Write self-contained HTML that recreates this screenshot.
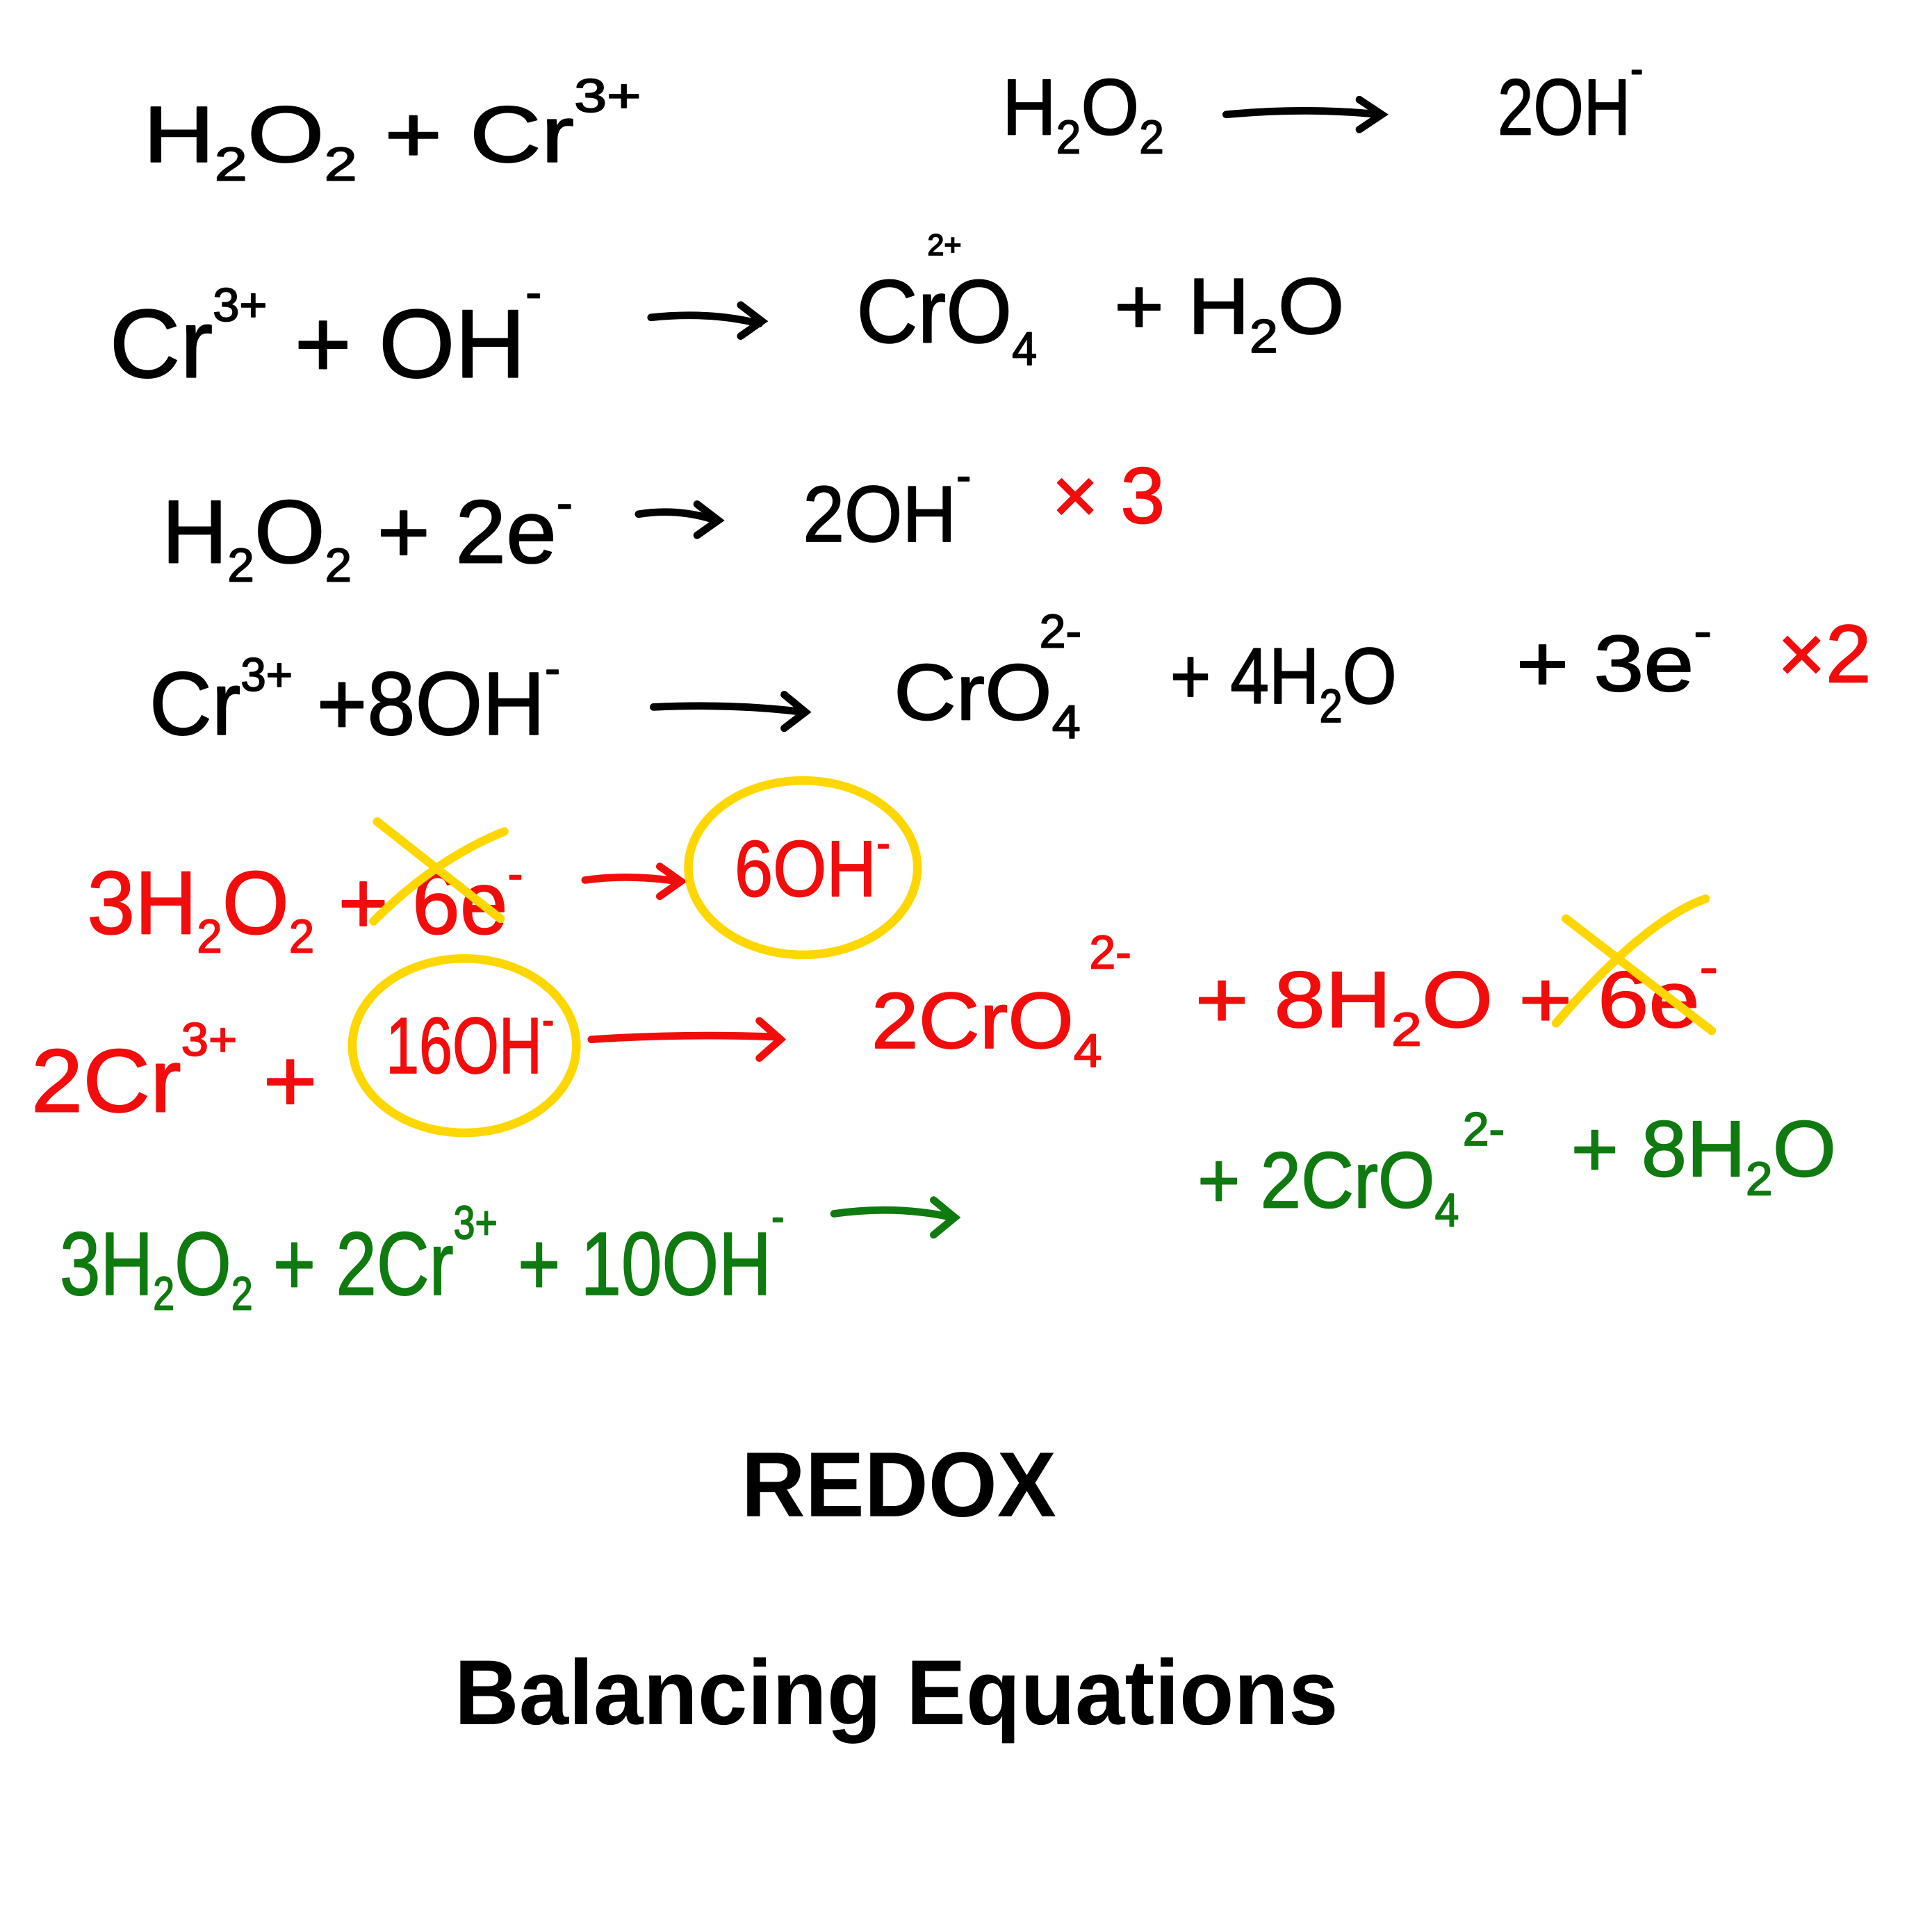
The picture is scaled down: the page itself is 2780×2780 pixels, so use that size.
<!DOCTYPE html>
<html><head><meta charset="utf-8"><style>
html,body{margin:0;padding:0;background:#fff}
svg{display:block}
text{font-family:"Liberation Sans",sans-serif}
.h{font-size:64px;stroke-width:1px;stroke-linejoin:round}
.k{fill:#000;stroke:#000}
.r{fill:#f20d0d;stroke:#f20d0d}
.g{fill:#0f7a0f;stroke:#0f7a0f}
.s{font-size:38px}
</style></head><body>
<svg width="2780" height="2780" viewBox="0 0 1552 1552" xmlns="http://www.w3.org/2000/svg">
<rect width="1552" height="1552" fill="#fff"/>
<!-- Row 1 -->
<text class="h k" x="115" y="130" textLength="400" lengthAdjust="spacingAndGlyphs">H<tspan class="s" dy="15">2</tspan><tspan dy="-15">O</tspan><tspan class="s" dy="15">2</tspan><tspan dy="-15"> + Cr</tspan><tspan class="s" dy="-40">3+</tspan></text>
<text class="h k" x="805" y="108" textLength="130" lengthAdjust="spacingAndGlyphs">H<tspan class="s" dy="15">2</tspan><tspan dy="-15">O</tspan><tspan class="s" dy="15">2</tspan></text>
<path d="M985 92 Q1050 86 1108 92 M1092 80 L1110 92 L1092 104" stroke="#000" stroke-width="6" fill="none" stroke-linecap="round"/>
<text class="h k" x="1203" y="108" textLength="117" lengthAdjust="spacingAndGlyphs">2OH<tspan class="s" dy="-40">-</tspan></text>
<!-- Row 2 -->
<text class="h k" x="88" y="303" style="font-size:78px" textLength="347" lengthAdjust="spacingAndGlyphs">Cr<tspan class="s" dy="-45">3+</tspan><tspan dy="45"> + OH</tspan><tspan class="s" dy="-55">-</tspan></text>
<path d="M523 255 Q570 250 610 260 M595 245 L612 258 L595 270" stroke="#000" stroke-width="6" fill="none" stroke-linecap="round"/>
<text class="h k" x="688" y="275" style="font-size:72px" textLength="145" lengthAdjust="spacingAndGlyphs">CrO<tspan class="s" dy="18">4</tspan></text>
<text class="s k" x="745" y="205" style="font-size:24px">2+</text>
<text class="h k" x="895" y="268" textLength="185" lengthAdjust="spacingAndGlyphs">+ H<tspan class="s" dy="15">2</tspan><tspan dy="-15">O</tspan></text>
<!-- Row 3 -->
<text class="h k" x="130" y="452" style="font-size:72px" textLength="330" lengthAdjust="spacingAndGlyphs">H<tspan class="s" dy="15">2</tspan><tspan dy="-15">O</tspan><tspan class="s" dy="15">2</tspan><tspan dy="-15"> + 2e</tspan><tspan class="s" dy="-35">-</tspan></text>
<path d="M513 413 Q545 408 575 418 M560 405 L577 418 L560 430" stroke="#000" stroke-width="6" fill="none" stroke-linecap="round"/>
<text class="h k" x="645" y="435" textLength="135" lengthAdjust="spacingAndGlyphs">2OH<tspan class="s" dy="-40">-</tspan></text>
<text class="h r" x="845" y="420">× 3</text>
<!-- Row 4 -->
<text class="h k" x="120" y="590" style="font-size:72px" textLength="330" lengthAdjust="spacingAndGlyphs">Cr<tspan class="s" dy="-35">3+</tspan><tspan dy="35"> +8OH</tspan><tspan class="s" dy="-40">-</tspan></text>
<path d="M525 568 Q590 565 645 572 M630 558 L647 572 L630 585" stroke="#000" stroke-width="6" fill="none" stroke-linecap="round"/>
<text class="h k" x="718" y="578" textLength="150" lengthAdjust="spacingAndGlyphs">CrO<tspan class="s" dy="15">4</tspan></text>
<text class="s k" x="835" y="520">2-</text>
<text class="h k" x="940" y="565" textLength="182" lengthAdjust="spacingAndGlyphs">+ 4H<tspan class="s" dy="15">2</tspan><tspan dy="-15">O</tspan></text>
<text class="h k" x="1218" y="555" textLength="157" lengthAdjust="spacingAndGlyphs">+ 3e<tspan class="s" dy="-35">-</tspan></text>
<text class="h r" x="1428" y="548" style="font-size:66px">×2</text>
<!-- Row 5 red -->
<text class="h r" x="70" y="750" style="font-size:72px" textLength="350" lengthAdjust="spacingAndGlyphs">3H<tspan class="s" dy="15">2</tspan><tspan dy="-15">O</tspan><tspan class="s" dy="15">2</tspan><tspan dy="-15"> + 6e</tspan><tspan class="s" dy="-35">-</tspan></text>
<path d="M470 707 Q505 702 545 708 M530 696 L547 708 L530 720" stroke="#f20d0d" stroke-width="6" fill="none" stroke-linecap="round"/>
<text class="h r" x="590" y="720" textLength="125" lengthAdjust="spacingAndGlyphs">6OH<tspan class="s" dy="-30">-</tspan></text>
<path d="M303 660 L402 738 M300 740 Q350 690 405 668" stroke="#ffd700" stroke-width="7" fill="none" stroke-linecap="round"/>
<ellipse cx="645" cy="697" rx="92" ry="70" stroke="#ffd700" stroke-width="7" fill="none"/>
<!-- Row 6 red -->
<text class="h r" x="25" y="893" style="font-size:72px" textLength="230" lengthAdjust="spacingAndGlyphs">2Cr<tspan class="s" dy="-45">3+</tspan><tspan dy="45">  +</tspan></text>
<text class="h r" x="310" y="862" textLength="135" lengthAdjust="spacingAndGlyphs">16OH<tspan class="s" dy="-30">-</tspan></text>
<ellipse cx="373" cy="840" rx="90" ry="70" stroke="#ffd700" stroke-width="7" fill="none"/>
<path d="M475 835 Q550 830 625 833 M610 820 L627 835 L610 850" stroke="#f20d0d" stroke-width="6" fill="none" stroke-linecap="round"/>
<text class="h r" x="700" y="842" textLength="185" lengthAdjust="spacingAndGlyphs">2CrO<tspan class="s" dy="15">4</tspan></text>
<text class="s r" x="875" y="778">2-</text>
<text class="h r" x="960" y="825" textLength="420" lengthAdjust="spacingAndGlyphs">+ 8H<tspan class="s" dy="15">2</tspan><tspan dy="-15">O + 6e</tspan><tspan class="s" dy="-35">-</tspan></text>
<path d="M1258 738 L1375 828 M1250 822 Q1320 740 1370 722" stroke="#ffd700" stroke-width="7" fill="none" stroke-linecap="round"/>
<!-- Row 7 green -->
<text class="h g" x="48" y="1040" style="font-size:72px" textLength="582" lengthAdjust="spacingAndGlyphs">3H<tspan class="s" dy="12">2</tspan><tspan dy="-12">O</tspan><tspan class="s" dy="12">2</tspan><tspan dy="-12"> + 2Cr</tspan><tspan class="s" dy="-45">3+</tspan><tspan dy="45"> + 10OH</tspan><tspan class="s" dy="-50">-</tspan></text>
<path d="M670 975 Q720 968 765 978 M750 964 L767 978 L750 992" stroke="#0f7a0f" stroke-width="6" fill="none" stroke-linecap="round"/>
<text class="h g" x="962" y="970" textLength="210" lengthAdjust="spacingAndGlyphs">+ 2CrO<tspan class="s" dy="15">4</tspan></text>
<text class="s g" x="1175" y="920">2-</text>
<text class="h g" x="1262" y="945" textLength="213" lengthAdjust="spacingAndGlyphs">+ 8H<tspan class="s" dy="15">2</tspan><tspan dy="-15">O</tspan></text>
<!-- Titles -->
<text x="722" y="1218" text-anchor="middle" font-weight="bold" font-size="74" fill="#000" textLength="253" lengthAdjust="spacingAndGlyphs">REDOX</text>
<text x="720" y="1385" text-anchor="middle" font-weight="bold" font-size="74" fill="#000" textLength="710" lengthAdjust="spacingAndGlyphs">Balancing Equations</text>
</svg>
</body></html>
